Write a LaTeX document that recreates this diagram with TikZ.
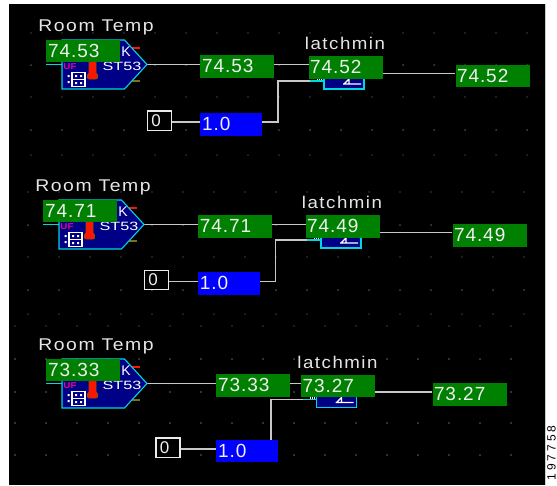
\documentclass[tikz,border=0pt]{standalone}
\usepackage{fontspec}
\usetikzlibrary{backgrounds}
\setmainfont{Liberation Sans}
\newfontfamily\valfont[LetterSpace=5]{Liberation Sans}
\newfontfamily\labfont[LetterSpace=8]{Liberation Sans}
\newfontfamily\idfont[LetterSpace=25]{Liberation Sans}
\definecolor{gbox}{RGB}{0,128,0}
\definecolor{bbox}{RGB}{0,0,255}
\definecolor{navyb}{RGB}{0,0,135}
\definecolor{cyanl}{RGB}{0,215,225}
\definecolor{wirec}{RGB}{200,200,200}
\definecolor{reddk}{RGB}{255,20,0}
\tikzset{
 x=1pt,y=-1pt,
 wire/.style={draw=wirec,line width=1.2pt},
 cyanw/.style={draw=cyanl,line width=1.2pt},
 valbox/.style={fill=gbox,draw=none,minimum width=74pt,minimum height=22.5pt,inner sep=0pt},
 onebox/.style={fill=bbox,draw=none,minimum width=62pt,minimum height=22.5pt,inner sep=0pt},
 zerobox/.style={fill=black,draw=white!92!black,line width=1.3pt,minimum width=24pt,minimum height=19.5pt,inner sep=0pt},
 valtxt/.style={text=white!94!black,font=\fontsize{19}{19}\valfont,anchor=west,inner sep=0pt},
 lab/.style={text=white!90!black,font=\fontsize{17}{17}\labfont,inner sep=0pt},
}
\newcommand\panelblock[3]{
 \begin{scope}[shift={(#2,#3)}]
  \node[lab] (room#1) at (96,27.5) {\scalebox{1.14}[1]{Room Temp}};
  \draw[cyanw] (46,64.5) -- (62,64.5);
  \draw[draw=reddk,line width=1.2pt] (132,48) -- (140,48);
  \draw[draw=olive!80!black,line width=1.2pt] (132,81) -- (140,81);
  \fill[navyb,draw=cyanl,line width=1.1pt] (62,89) -- (62,40) -- (124.5,40) -- (147,64.5) -- (124.5,89) -- cycle;
  \node[text=magenta,font=\fontsize{8.5}{8.5}\selectfont\bfseries,inner sep=0pt] (uf#1) at (70,66.5) {\scalebox{1.15}[1]{UF}};
  \node[text=white,font=\fontsize{12}{12}\selectfont,inner sep=0pt] (st#1) at (122,66) {\scalebox{1.35}[1]{ST53}};
  \node[text=white,font=\fontsize{14}{14}\selectfont,inner sep=0pt] (k#1) at (126,52) {K};
  \fill[reddk,draw=orange!60!black,line width=.8pt] (89,60) -- (96,60) -- (96,73) -- (97.5,75) -- (97.5,78) -- (96,79) -- (89,79) -- (87.5,78) -- (87.5,75) -- (89,73) -- cycle;
  \draw[white,line width=1.1pt] (72,72.5) rectangle (85,86.5) (72,79.5) -- (85,79.5);
  \fill[white] (67.5,75) rectangle (69.5,77) (67.5,81) rectangle (69.5,83) (75,75) rectangle (77,77) (80,75) rectangle (82,77) (75,82) rectangle (77,84) (80,82) rectangle (82,84);
  \node[valbox,anchor=north west] (tag#1) at (46,39.5) {};
  \node[valtxt] at ([xshift=2pt]tag#1.west) {\csname tagv#1\endcsname};
  \coordinate (tip#1) at (147,64.5);
 \end{scope}
}
% #1 suffix; #2,#3 first value; #4,#5 latch; #6,#7 output; #8,#9 zero box
\newcommand\panelrest[9]{
 \begin{scope}[shift={(#2,#3)}]
  \node[valbox,anchor=north west] (a#1) at (200,55) {};
  \node[valtxt] at ([xshift=2pt]a#1.west) {\csname av#1\endcsname};
 \end{scope}
 \begin{scope}[shift={(#4,#5)}]
  \fill[navyb,draw=cyanl,line width=1.1pt] (324,70) rectangle (364,89);
  \coordinate (lin#1) at (324,81);
  \draw[white,line width=1.3pt] (343,84) -- (361,84) (349,84) -- (349,78) (344,84) -- (349,79);
  \draw[white,line width=.7pt] (317.5,78) -- (317.5,80) (319.5,78) -- (319.5,80) (321.5,78) -- (321.5,80);
  \node[lab] (lt#1) at (345,43.5) {\scalebox{1.1}[1]{latchmin}};
  \node[valbox,anchor=north west] (b#1) at (308.5,56) {};
  \node[valtxt] at ([xshift=1.5pt]b#1.west) {\csname bv#1\endcsname};
 \end{scope}
 \begin{scope}[shift={(#6,#7)}]
  \node[valbox,anchor=north west] (c#1) at (455.3,64.3) {};
  \node[valtxt] at ([xshift=1.5pt]c#1.west) {\csname cv#1\endcsname};
 \end{scope}
 \begin{scope}[shift={(#8,#9)}]
  \node[zerobox,anchor=north west] (z#1) at (146.7,110.3) {};
  \node[text=white!94!black,font=\fontsize{17}{17}\selectfont,inner sep=0pt] at (156,120.2) {0};
  \coordinate (w#1) at (180,122);
 \end{scope}
}
\newcommand\panelone[3]{
 \begin{scope}[shift={(#2,#3)}]
  \node[onebox,anchor=north west] (o#1) at (200,113) {};
  \node[valtxt] at ([xshift=2pt]o#1.west) {1.0};
 \end{scope}
}
\newcommand\setvals[5]{
 \expandafter\def\csname tagv#1\endcsname{#2}
 \expandafter\def\csname av#1\endcsname{#3}
 \expandafter\def\csname bv#1\endcsname{#4}
 \expandafter\def\csname cv#1\endcsname{#5}
}
\setvals{1}{74.53}{74.53}{74.52}{74.52}
\setvals{2}{74.71}{74.71}{74.49}{74.49}
\setvals{3}{73.33}{73.33}{73.27}{73.27}
\begin{document}
\begin{tikzpicture}
 \useasboundingbox (0,0) rectangle (557,485);
 \panelblock{1}{0}{0}
 \panelblock{2}{-3}{160}
 \panelblock{3}{0}{319}
 \panelrest{1}{0}{0}{0}{0}{0}{0}{0}{0}
 \panelrest{2}{-2.3}{160}{-3}{159}{-3}{159.5}{-3}{159.3}
 \panelrest{3}{16}{319}{-7.5}{318.5}{-23}{318.5}{8.5}{327}
 \panelone{1}{0}{0}
 \panelone{2}{-2.3}{159}
 \panelone{3}{16}{326.5}
 \coordinate (v1) at (278,0);
 \coordinate (v2) at (275.3,0);
 \coordinate (v3) at (271,0);
 \begin{scope}[on background layer]
  \fill[black] (9,4) rectangle (545,485);
  \fill[white!80!black] (545,4) rectangle (546,485);
  % grid dots: bright rows and blurred rows
  \foreach \yy in {33,97}
   \foreach \xx in {31,62,...,531}
    \fill[white!50!black] (\xx,\yy) circle[radius=.7];
  \foreach \yy in {65,130}
   \foreach \xx in {31,62,...,531}
    \fill[white!28!black] (\xx,\yy) circle[radius=1];
  \foreach \xx in {31,62,...,531}
    \fill[white!18!black] (\xx,155) circle[radius=1];
  \foreach \yy in {192,257}
   \foreach \xx in {28,59,...,531}
    \fill[white!50!black] (\xx,\yy) circle[radius=.7];
  \foreach \yy in {225,290}
   \foreach \xx in {28,59,...,531}
    \fill[white!28!black] (\xx,\yy) circle[radius=1];
  \foreach \xx in {28,59,...,531}
    \fill[white!18!black] (\xx,314) circle[radius=1];
  \foreach \xx in {15,46,...,540}
    \fill[white!50!black] (\xx,326) circle[radius=.7];
  \foreach \yy in {359,392,423,455}
   \foreach \xx in {15,46,...,540}
    \fill[white!40!black] (\xx,\yy) circle[radius=.8];
  \foreach \i in {1,2,3} {
   \draw[wire] (tip\i) -- (tip\i -| a\i.west);
   \draw[wire] ([yshift=2pt]a\i.center) -- ([yshift=2pt]a\i.center -| b\i.west);
   \draw[wire] ([yshift=-6pt]b\i.center) -- ([yshift=-6pt]b\i.center -| c\i.west);
   \draw[wire] (w\i -| z\i.east) -- (w\i -| o\i.west);
   \draw[wire] (w\i -| o\i.east) -- (w\i -| v\i) -- (lin\i -| v\i) -- ([xshift=-14pt]lin\i);
   \draw[cyanw] ([xshift=-14pt]lin\i) -- (lin\i);
  }
 \end{scope}
 \node[rotate=90,text=black,font=\fontsize{12}{12}\idfont,inner sep=0pt] (id) at (551.5,453) {197758};
\end{tikzpicture}
\end{document}
